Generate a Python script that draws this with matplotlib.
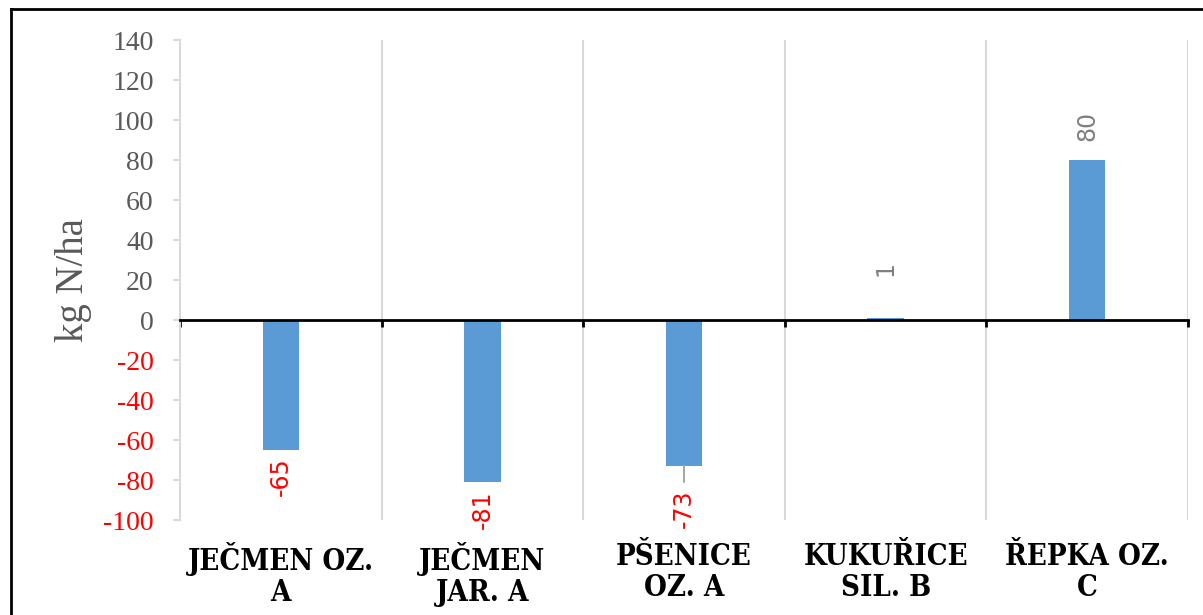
import numpy as np
import matplotlib.pyplot as plt
from matplotlib.lines import Line2D
from matplotlib.transforms import blended_transform_factory

# data
crops = ['JEČMEN OZ.\nA', 'JEČMEN\nJAR. A', 'PŠENICE\nOZ. A', 'KUKUŘICE\nSIL. B', 'ŘEPKA OZ.\nC']
balance = [-65, -81, -73, 1, 80]
yticks = list(range(-100, 141, 20))

blue = '#5B9BD5'
grid_c = '#D9D9D9'

fig = plt.figure(figsize=(12.03, 6.15), dpi=100)
ax = fig.add_axes([180/1203, 95/615, 1008/1203, 480/615])

x = np.arange(len(crops))
ax.bar(x, balance, width=0.18, color=blue, zorder=3)

ax.set_xlim(-0.5, len(crops) - 0.5)
ax.set_ylim(-100, 140)

# vertical separators between categories
for b in np.arange(0.5, len(crops), 1.0):
    ax.axvline(b, color=grid_c, lw=1.5, zorder=1)

# spines
for s in ['top', 'right']:
    ax.spines[s].set_visible(False)
ax.spines['left'].set_color(grid_c)
ax.spines['left'].set_linewidth(1.5)
ax.spines['bottom'].set_position(('data', 0))
ax.spines['bottom'].set_color('black')
ax.spines['bottom'].set_linewidth(2)
ax.spines['bottom'].set_zorder(4)

ax.set_xticks(np.arange(-0.5, len(crops), 1.0))
ax.set_xticklabels([])
ax.tick_params(axis='x', direction='out', length=5, width=2, color='black')

ax.set_yticks(yticks)
ax.set_yticklabels([str(v) for v in yticks], fontfamily='Liberation Serif', fontsize=20)
ax.tick_params(axis='y', direction='out', length=5, width=1.5, color=grid_c, pad=14)
for lab, v in zip(ax.get_yticklabels(), yticks):
    lab.set_color('red' if v < 0 else '#595959')

ax.set_ylabel('kg N/ha', fontfamily='Liberation Serif', fontsize=28, color='#595959', labelpad=8)

# category labels
trans = blended_transform_factory(ax.transData, ax.transAxes)
for xi, name in zip(x, crops):
    ax.text(xi, -0.045, name, transform=trans, ha='center', va='top',
            fontfamily='DejaVu Serif', fontweight='heavy', fontstretch='condensed',
            fontsize=21, linespacing=1.12)

# data labels (rotated)
offsets = [5, 6, 17, 30, 14]
for xi, v, off in zip(x, balance, offsets):
    neg = v < 0
    ax.annotate(str(v), (xi, v), xytext=(0, -off if neg else off), textcoords='offset points',
                rotation=90, ha='center', va='top' if neg else 'bottom',
                fontfamily='DejaVu Sans', fontsize=17,
                color='red' if neg else '#808080', zorder=5)
# leader line for -73
ax.annotate('', (2, -73), xytext=(2, -81),
            arrowprops=dict(arrowstyle='-', color='#A6A6A6', lw=1.5, shrinkA=0, shrinkB=0))

# outer frame
fig.add_artist(Line2D([11/1203, 11/1203], [0, 1 - 9/615], transform=fig.transFigure, color='black', lw=2))
fig.add_artist(Line2D([11/1203, 1], [1 - 9/615, 1 - 9/615], transform=fig.transFigure, color='black', lw=2))

fig.savefig('out.png', dpi=100)
